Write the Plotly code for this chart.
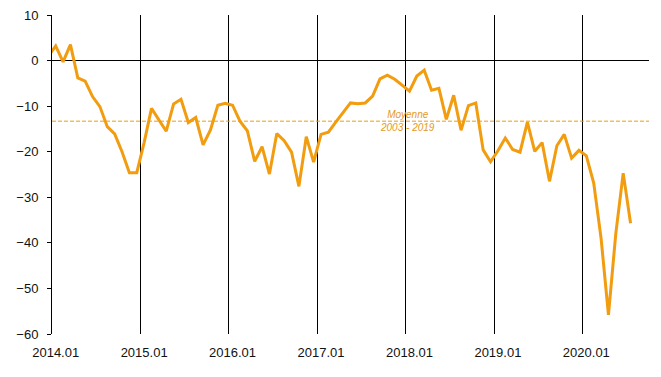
import plotly.graph_objects as go
import pandas as pd

# Monthly values, starting 2013.12 (first point partly hidden by the axis) to 2020.07
values = [
    1.0,                                                           # 2013.12
    3.2, -0.3, 3.5, -3.8, -4.5, -7.9, -10.1, -14.5, -16.1, -20.0, -24.6, -24.6,   # 2014
    -18.0, -10.5, -13.0, -15.5, -9.5, -8.5, -13.6, -12.5, -18.5, -15.2, -9.8, -9.4,  # 2015
    -9.8, -13.3, -15.4, -22.1, -18.9, -24.9, -16.0, -17.6, -20.1, -27.6, -16.7, -22.3,  # 2016
    -16.2, -15.7, -13.5, -11.4, -9.3, -9.5, -9.3, -7.8, -4.0, -3.2, -4.1, -5.4,  # 2017
    -6.7, -3.4, -2.1, -6.5, -6.1, -12.9, -7.6, -15.3, -9.9, -9.3, -19.6, -22.2,  # 2018
    -19.8, -17.0, -19.5, -20.1, -13.5, -19.9, -18.0, -26.5, -18.7, -16.2, -21.4, -19.7,  # 2019
    -20.9, -26.9, -39.0, -55.8, -37.9, -24.7, -35.7,               # 2020
]
first_month = "2013-12"
average = -13.3
average_label = "<i>Moyenne<br>2003 - 2019</i>"
year_ticks = ["2014.01", "2015.01", "2016.01", "2017.01", "2018.01", "2019.01", "2020.01"]
y_ticks = [10, 0, -10, -20, -30, -40, -50, -60]

periods = pd.period_range(first_month, periods=len(values), freq="M")
x = [(p.year - 2014) * 12 + p.month - 1 for p in periods]
tick_pos = [(int(t[:4]) - 2014) * 12 + int(t[5:]) - 1 for t in year_ticks]

ORANGE = "#F29C0F"

fig = go.Figure()
fig.add_trace(go.Scatter(
    x=x, y=values, mode="lines",
    line=dict(color=ORANGE, width=3), hoverinfo="skip", showlegend=False,
))

fig.add_hline(y=average, line=dict(color="#ED9E0C", width=1, dash="4px,2px"))
fig.add_annotation(
    x=tick_pos[4] - 0.3, y=average, text=average_label, showarrow=False,
    font=dict(family="Liberation Sans, Arial", size=10, color="#E39A1E"),
    xanchor="center", yanchor="middle", align="center",
)

fig.update_layout(
    width=661, height=377,
    margin=dict(l=52, r=12, t=15, b=43, autoexpand=False),
    paper_bgcolor="white", plot_bgcolor="white",
    font=dict(family="Liberation Sans, Arial", size=13, color="#111111"),
    xaxis=dict(
        range=[-0.5, 80.5], automargin=False,
        tickmode="array", tickvals=tick_pos, ticktext=year_ticks,
        showgrid=False, zeroline=False, showline=False, ticks="",
        ticklabelstandoff=9,
        minor=dict(tick0=-0.5, dtick=12, showgrid=True, gridcolor="black", gridwidth=1, ticks=""),
    ),
    yaxis=dict(
        range=[-60, 10], automargin=False,
        tickmode="array", tickvals=y_ticks,
        showgrid=False, zeroline=True, zerolinecolor="black", zerolinewidth=1,
        showline=True, linecolor="black", linewidth=1,
        ticks="outside", ticklen=4, tickcolor="black",
        ticklabelstandoff=6,
    ),
)

fig.write_html("out.html", config={"displayModeBar": False},
               post_script="document.body.style.margin='0';")
